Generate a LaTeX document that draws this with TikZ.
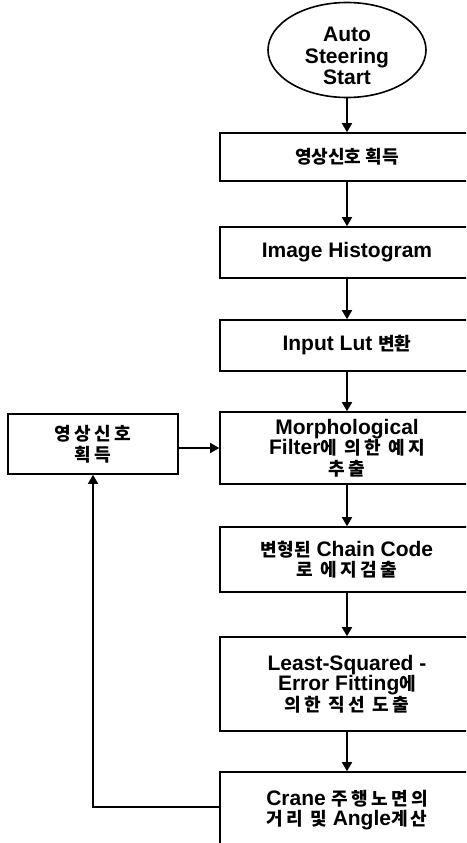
\documentclass[tikz,border=0pt]{standalone}
\usepackage{fontspec}
\setmainfont{Liberation Sans}
\newfontfamily\krf[Scale=0.86]{Noto Sans CJK KR}
\newfontfamily\krwide[Scale=0.86,LetterSpace=18]{Noto Sans CJK KR}
\usetikzlibrary{shapes.geometric,arrows.meta}
\tikzset{
  every node/.style={font=\fontsize{21}{20.5}\selectfont\bfseries},
  box/.style={draw, rectangle, line width=1.6pt, minimum width=254pt, inner sep=0pt, align=center},
  startnode/.style={draw, ellipse, line width=1.6pt, minimum width=158pt, minimum height=95pt, inner sep=0pt, align=center},
  arr/.style={line width=1.6pt, -{Triangle[length=9pt,width=10pt]}}
}
\begin{document}
\begin{tikzpicture}[x=1pt,y=-1pt]
\useasboundingbox (0,0) rectangle (466,843);
\clip (0,0) rectangle (466,843);
\fill[white] (0,0) rectangle (466,843);
\node[startnode] (start) at (347,50) {\raisebox{-9pt}[\height][\depth]{\begin{tabular}{@{}c@{}}Auto\\[0.5pt]Steering\\[0.5pt]Start\end{tabular}}};
\node[box, minimum height=48pt] (b1) at (347,157) {{\krf 영상신호 획득}};
\node[box, minimum height=51pt] (b2) at (347,252.5) {Image Histogram};
\node[box, minimum height=51pt] (b3) at (347,345.5) {Input Lut {\krf 변환}};
\node[box, minimum height=72pt] (b4) at (347,448) {Morphological\\Filter{\krwide 에 의한 예지}\\{\krwide 추출}};
\node[box, minimum height=65pt] (b5) at (347,559.5) {{\krf 변형된} Chain Code\\{\krwide 로 에지검출}};
\node[box, minimum height=94pt] (b6) at (347,684) {Least-Squared -\\Error Fitting{\krf 에}\\{\krwide 의한 직선 도출}};
\node[box, minimum height=76pt] (b7) at (347,810) {Crane {\krwide 주행노면의}\\{\krwide 거리 및} Angle{\krwide 계산}};
\node[box, minimum width=170pt, minimum height=60pt] (left) at (93,444) {{\krwide 영상신호}\\{\krwide 획득}};
\draw[arr] (start) -- (b1);
\draw[arr] (b1) -- (b2);
\draw[arr] (b2) -- (b3);
\draw[arr] (b3) -- (b4);
\draw[arr] (b4) -- (b5);
\draw[arr] (b5) -- (b6);
\draw[arr] (b6) -- (b7);
\draw[arr] (left.east |- b4.west) -- (b4.west);
\draw[arr] ([yshift=3pt]b7.west) -| (left.south);
\end{tikzpicture}
\end{document}
